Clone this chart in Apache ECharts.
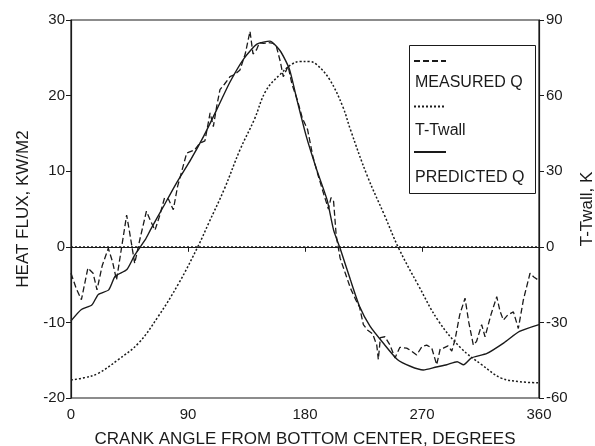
<!DOCTYPE html>
<html>
<head>
<meta charset="utf-8">
<script src="https://cdn.jsdelivr.net/npm/echarts@6/dist/echarts.min.js"></script>
<style>html,body{margin:0;padding:0;background:#fff}#c{width:595px;height:446px}</style>
</head>
<body>
<div id="c"></div>
<script>
// ---- data ----
const seriesNames = ['MEASURED Q', 'T-Twall', 'PREDICTED Q'];
const xTicks = [0, 90, 180, 270, 360];

const measuredAngle = [0,4,8,13,17,20,24,28.7,32,35,39,42.8,45,49,53,58,61,64.6,68,72,75,78.7,82,86,89,95,99,103,107,109.5,112,114.6,118,122.3,126,130,134,137.7,140,142.8,145,148,152,155.6,158,161,163.3,167,170,174,178,182,186,190,194,198,200,202,204,207,211,215,219,222,224.9,228,232,235.2,236.4,238,241.5,245.4,249.2,253,258.2,262,265.9,270,273.6,277.5,281.3,284,286.4,290,292.9,295.4,299,303.1,306,309.5,312,315.9,318.5,323,327.5,330,332.6,336,340.3,344.1,348,353.1,356,359.5];
const measuredQ = [-3.5,-5.5,-7.0,-2.8,-3.5,-5.7,-2.5,-0.2,-2,-4.4,0,4.2,2,-2.2,1,4.7,3.5,2.2,4,6.5,6.3,4.9,8,10.5,12.4,12.8,13.7,14,17.7,15.9,18.5,20.8,21.5,22.5,22.8,23.4,25.5,28.5,25.5,26.1,27,26.9,27,26.9,26.5,24.5,22.5,23.9,21.5,19.5,17,15.5,12,9.5,7.2,5,6.5,6,1.5,-1.5,-3.5,-5.5,-7,-8,-10.3,-11,-11.5,-13,-14.9,-12,-11.9,-13,-14.7,-13.3,-13.4,-13.8,-14.3,-13.2,-13,-13.4,-15.6,-13.5,-13.4,-13.1,-13.8,-12.3,-9,-6.8,-10,-13,-12.5,-10.3,-11.9,-9,-6.6,-8.5,-9.7,-9,-8.6,-10.8,-7,-3.5,-4,-4.4];

const predictedAngle = [0,8,16,21,29,34,43,49,57,61,71,81,92,102,112,122,133,143,153,161,168,174,181,189,197,202,207,215,222,230,240,251,261,271,281,289,297,302,308,320,333,345,360];
const predictedQ = [-9.8,-8.3,-7.7,-6.3,-5.7,-3.9,-3.0,-1.1,0.9,2.2,5.3,8.4,11.5,14.6,18.1,21.7,24.9,26.8,27.2,25.9,23.5,19.3,14.6,10.2,6.2,2.2,-0.2,-4.4,-7.9,-10.5,-12.7,-14.9,-15.8,-16.3,-15.9,-15.6,-15.2,-15.6,-14.7,-14.1,-12.7,-11.2,-10.3];

const tAngle = [0,10,21,36,52,67,83,98,106,118,130,141,150,161,170,176,183,189,199,209,215,228,241,252,267,283,300,316,331,345,360];
const tTwall = [-52.8,-52,-50.2,-44.9,-38.2,-27.7,-14.4,0.5,9.5,23,38.5,50.5,62,68.5,72.5,73.5,73.5,72.3,66.3,55.7,46.4,28,12.7,-0.5,-15.1,-29.7,-40.2,-46.8,-52.1,-53.5,-54];

const zip = (a, b) => a.map((v, i) => [v, b[i]]);

const INK = '#1a1a1a';
const FONT = '"Liberation Sans", Arial, sans-serif';
const DOT = [2, 2];

const chart = echarts.init(document.getElementById('c'), null, {renderer: 'canvas'});
chart.setOption({
  animation: false,
  backgroundColor: '#fff',
  textStyle: {fontFamily: FONT, color: INK},
  grid: {left: 71, right: 56, top: 20, bottom: 48, show: true, borderColor: INK, borderWidth: 1.2,
         containLabel: false, outerBoundsMode: 'none'},
  xAxis: {
    type: 'value', min: 0, max: 360, interval: 90,
    name: 'CRANK ANGLE FROM BOTTOM CENTER, DEGREES', nameLocation: 'middle', nameGap: 33,
    nameTextStyle: {fontSize: 17, color: INK, fontFamily: FONT},
    axisLine: {show: true, lineStyle: {color: INK, width: 1.2}},
    axisTick: {show: true, inside: false, length: 5, lineStyle: {color: INK}},
    axisLabel: {fontSize: 15, color: INK, margin: 9, fontFamily: FONT},
    splitLine: {show: false}
  },
  yAxis: [{
    type: 'value', min: -20, max: 30, interval: 10, position: 'left',
    name: 'HEAT FLUX, KW/M2', nameLocation: 'middle', nameGap: 39, nameRotate: 90,
    nameTextStyle: {fontSize: 17, color: INK, fontFamily: FONT},
    axisLine: {show: true, lineStyle: {color: INK, width: 1.2}},
    axisTick: {show: true, inside: false, length: 5, lineStyle: {color: INK}},
    axisLabel: {fontSize: 15, color: INK, margin: 6, fontFamily: FONT},
    splitLine: {show: false}
  }, {
    type: 'value', min: -60, max: 90, interval: 30, position: 'right',
    name: 'T-Twall, K', nameLocation: 'middle', nameGap: 37, nameRotate: 90,
    nameTextStyle: {fontSize: 17, color: INK, fontFamily: FONT},
    axisLine: {show: true, lineStyle: {color: INK, width: 1.2}},
    axisTick: {show: true, inside: false, length: 5, lineStyle: {color: INK}},
    axisLabel: {fontSize: 15, color: INK, margin: 7, fontFamily: FONT},
    splitLine: {show: false}
  }],
  legend: [{
    // line samples
    orient: 'vertical', left: 413, top: 57, padding: 0,
    itemWidth: 32, itemHeight: 10, itemGap: 37.5,
    formatter: () => '',
    itemStyle: {opacity: 0, borderWidth: 0},
    textStyle: {fontSize: 10, lineHeight: 10},
    data: seriesNames, selectedMode: false
  }, {
    // text labels
    orient: 'vertical', left: 410, top: 75, padding: 0,
    itemWidth: 0, itemHeight: 16, itemGap: 31.5, icon: 'rect',
    itemStyle: {opacity: 0},
    textStyle: {fontSize: 16, lineHeight: 16, color: INK, fontFamily: FONT},
    data: seriesNames, selectedMode: false
  }],
  graphic: [{
    type: 'rect', left: 407, top: 43, z: 10,
    shape: {width: 126, height: 148},
    style: {fill: null, stroke: INK, lineWidth: 1}
  }],
  series: [{
    name: seriesNames[0], type: 'line', yAxisIndex: 0,
    data: zip(measuredAngle, measuredQ),
    showSymbol: false, symbol: 'none', smooth: false,
    lineStyle: {color: INK, width: 1.3, type: [6, 3]},
    itemStyle: {color: INK}
  }, {
    name: seriesNames[1], type: 'line', yAxisIndex: 1,
    data: zip(tAngle, tTwall),
    showSymbol: false, symbol: 'none', smooth: 0.4,
    lineStyle: {color: INK, width: 1.5, type: DOT},
    itemStyle: {color: INK}
  }, {
    name: seriesNames[2], type: 'line', yAxisIndex: 0,
    data: zip(predictedAngle, predictedQ),
    showSymbol: false, symbol: 'none', smooth: 0.2,
    lineStyle: {color: INK, width: 1.4, type: 'solid'},
    itemStyle: {color: INK},
    markLine: {
      silent: true, symbol: 'none', label: {show: false},
      lineStyle: {color: INK, width: 1.5, type: DOT},
      data: [{yAxis: 0}]
    }
  }]
});
</script>
</body>
</html>
